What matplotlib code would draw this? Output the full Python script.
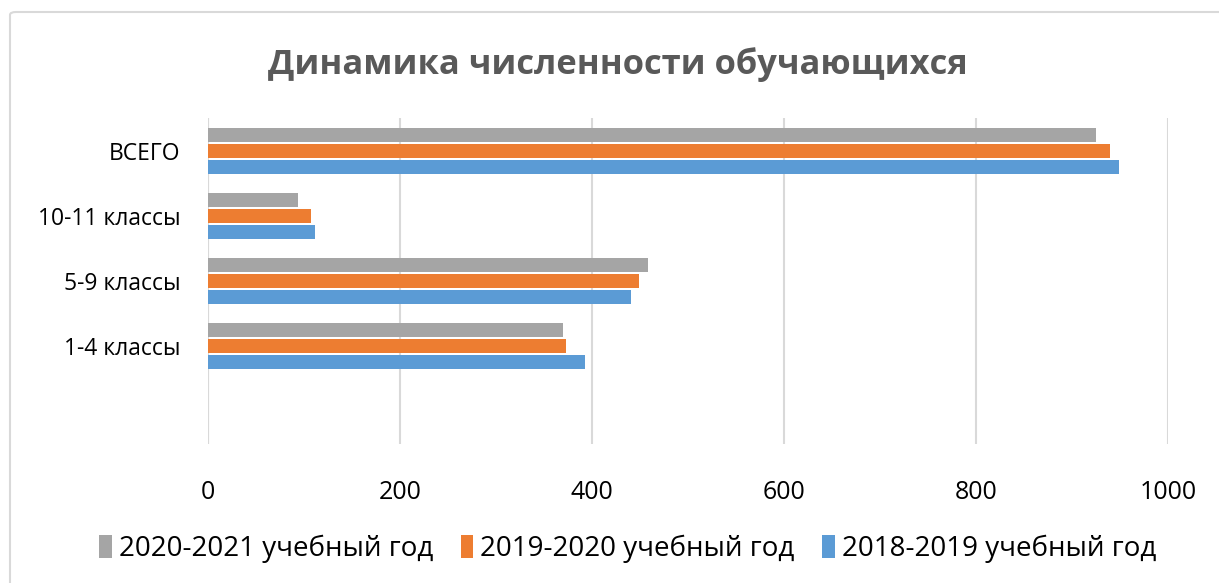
import numpy as np
import matplotlib.pyplot as plt
import matplotlib.patheffects as pe
from matplotlib.patches import FancyBboxPatch

categories = ['', '1-4 классы', '5-9 классы', '10-11 классы', 'ВСЕГО']
y2020 = [0, 370, 458, 94, 925]
y2019 = [0, 373, 449, 107, 940]
y2018 = [0, 393, 441, 112, 949]
series = [('2020-2021 учебный год', y2020, '#A5A5A5'),
          ('2019-2020 учебный год', y2019, '#ED7D31'),
          ('2018-2019 учебный год', y2018, '#5B9BD5')]
xticks = [0, 200, 400, 600, 800, 1000]

plt.rcParams['font.family'] = ['Open Sans', 'DejaVu Sans']

fig = plt.figure(figsize=(12.19, 5.83), dpi=100)
ax = fig.add_axes([0.1706, 0.239, 0.7876, 0.558])

# chart frame
fig.patches.append(FancyBboxPatch((10 / 1219, -0.05), 1.2, 1 - 12 / 583 + 0.05,
                                  boxstyle='round,pad=0,rounding_size=0.005',
                                  transform=fig.transFigure, fill=False,
                                  edgecolor='#D9D9D9', linewidth=1.5))

y = np.arange(len(categories))
pitch = 0.246
h = 0.215
shadow = [pe.SimplePatchShadow(offset=(2, -2), alpha=0.25), pe.Normal()]
for i, (name, vals, col) in enumerate(series):
    vals = np.array(vals)
    mask = vals > 0
    ax.barh(y[mask] + (1 - i) * pitch, vals[mask], height=h, color=col,
            label=name, path_effects=shadow, zorder=3)

ax.set_ylim(-0.5, len(categories) - 0.5)
ax.set_xlim(0, 1000)
ax.set_xticks(xticks)
ax.set_yticks(y)
ax.set_yticklabels(categories)
ax.grid(axis='x', color='#D9D9D9', linewidth=1.5, zorder=0)
for s in ax.spines.values():
    s.set_visible(False)
ax.axvline(0, color='#D9D9D9', linewidth=1.5, zorder=1)
ax.tick_params(length=0)
ax.tick_params(axis='x', labelsize=18, pad=26, labelcolor='#000000')
ax.tick_params(axis='y', labelsize=16.5, pad=20, labelcolor='#000000')

fig.text(0.507, 0.89, 'Динамика численности обучающихся', ha='center', va='center',
         fontsize=24.8, fontweight='bold', color='#595959')

handles, labels = ax.get_legend_handles_labels()
for hd in handles:
    for p in hd.patches:
        p.set_path_effects([])
leg = fig.legend(handles, labels, loc='center', bbox_to_anchor=(0.515, 0.058), ncol=3,
                 frameon=False, fontsize=20, handlelength=0.45, handleheight=0.9,
                 handletextpad=0.25, columnspacing=1.0)

fig.savefig('out.png', dpi=100)
